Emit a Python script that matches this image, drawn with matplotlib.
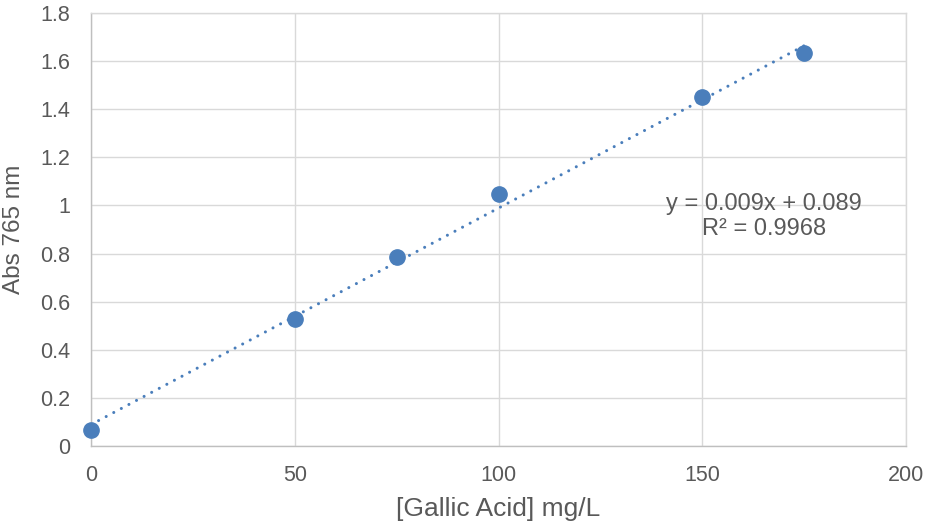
import numpy as np
import matplotlib
matplotlib.use("Agg")
import matplotlib.pyplot as plt

plt.rcParams['font.family'] = ['Liberation Sans', 'DejaVu Sans']

conc = [0, 50, 75, 100, 150, 175]
absorb = [0.066, 0.530, 0.784, 1.046, 1.449, 1.632]
x_ticks = [0, 50, 100, 150, 200]
y_ticks = [0, 0.2, 0.4, 0.6, 0.8, 1.0, 1.2, 1.4, 1.6, 1.8]
y_tick_labels = ['0', '0.2', '0.4', '0.6', '0.8', '1', '1.2', '1.4', '1.6', '1.8']
slope, intercept, r2 = 0.009, 0.089, 0.9968

blue = '#4a7ebb'
grid = '#d9d9d9'
txt = '#595959'

fig = plt.figure(figsize=(9.26, 5.27), dpi=100)
ax = fig.add_axes([91/926, 1-446/527, (906-91)/926, (446-13)/527])

xs = np.array([min(conc), max(conc)])
ax.plot(xs, slope*xs + intercept, color=blue, lw=2.2,
        linestyle=(0, (0.01, 2.8)), dash_capstyle='round', zorder=3)
ax.plot(conc, absorb, 'o', color=blue, markersize=11, zorder=4, clip_on=False)

ax.set_xlim(0, 200)
ax.set_ylim(0, 1.8)
ax.set_xticks(x_ticks)
ax.set_yticks(y_ticks)
ax.set_yticklabels(y_tick_labels)
ax.tick_params(length=0, labelsize=15.5, labelcolor=txt)
ax.tick_params(axis='y', pad=15)
ax.tick_params(axis='x', pad=13.5)
ax.grid(True, color=grid, lw=1.0)
ax.set_axisbelow(True)
for s in ax.spines.values():
    s.set_color(grid)
    s.set_linewidth(1.0)
ax.spines['bottom'].set_color('#bfbfbf')
ax.spines['left'].set_color('#bfbfbf')

ax.set_xlabel('[Gallic Acid] mg/L', fontsize=19, color=txt, labelpad=8)
ax.set_ylabel('Abs 765 nm', fontsize=17.5, color=txt, labelpad=11)

ax.text(0.826, 0.53, f'y = {slope}x + {intercept}\nR² = {r2}', transform=ax.transAxes,
        ha='center', va='center', fontsize=17, color=txt, linespacing=1.2)

fig.savefig('out.png', dpi=100, facecolor='white')
